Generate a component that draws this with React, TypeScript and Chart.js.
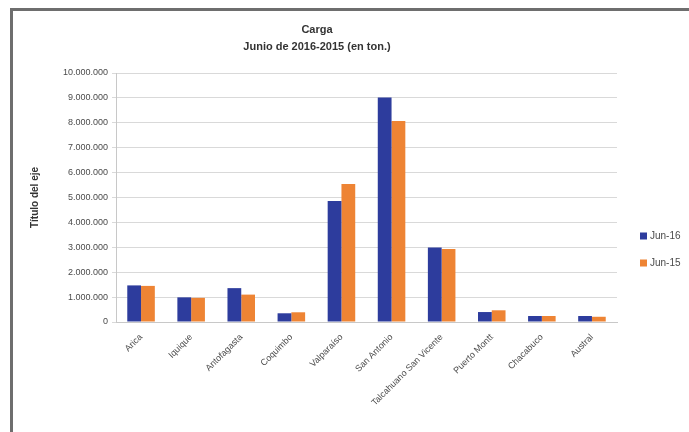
import React, { useEffect, useRef } from "react";
import { Chart, registerables } from "chart.js";

Chart.register(...registerables);

const categories = [
  "Arica",
  "Iquique",
  "Antofagasta",
  "Coquimbo",
  "Valparaíso",
  "San Antonio",
  "Talcahuano San Vicente",
  "Puerto Montt",
  "Chacabuco",
  "Austral",
];
const seriesNames = ["Jun-16", "Jun-15"];
const jun16 = [1470000, 990000, 1360000, 350000, 4860000, 9020000, 2990000, 400000, 240000, 240000];
const jun15 = [1450000, 970000, 1100000, 390000, 5540000, 8070000, 2930000, 470000, 240000, 210000];
const titleLines = ["Carga", "Junio de 2016-2015 (en ton.)"];
const yAxisTitle = "Título del eje";
const colors = ["#2d3c9d", "#ee8434"];

const FONT = "'Liberation Sans', Arial, sans-serif";

const fmt = (v: number) => String(Math.round(v)).replace(/\B(?=(\d{3})+(?!\d))/g, ".");

const legendPlugin = {
  id: "customLegend",
  afterDraw(chart: any) {
    const ctx = chart.ctx;
    ctx.save();
    ctx.font = `10px ${FONT}`;
    ctx.textBaseline = "middle";
    chart.data.datasets.forEach((ds: any, i: number) => {
      const y = 236 + i * 27;
      ctx.fillStyle = ds.backgroundColor;
      ctx.fillRect(640, y - 3.5, 7, 7);
      ctx.fillStyle = "#4a4a4a";
      ctx.fillText(ds.label, 650, y);
    });
    ctx.restore();
  },
};

export default function App() {
  const ref = useRef<HTMLCanvasElement | null>(null);
  useEffect(() => {
    if (!ref.current) return;
    const chart = new Chart(ref.current, {
      type: "bar",
      data: {
        labels: categories,
        datasets: [
          { label: seriesNames[0], data: jun16, backgroundColor: colors[0] },
          { label: seriesNames[1], data: jun15, backgroundColor: colors[1] },
        ],
      },
      options: {
        animation: false,
        responsive: false,
        layout: { padding: { left: 17, right: 72, top: 0, bottom: 0 } },
        datasets: { bar: { categoryPercentage: 0.55, barPercentage: 1.0 } },
        plugins: {
          legend: { display: false },
          tooltip: { enabled: false },
          title: {
            display: true,
            text: titleLines,
            color: "#333333",
            font: { family: FONT, size: 11, weight: "bold", lineHeight: 1.5 },
            padding: { top: 22, bottom: 18 },
          },
        },
        scales: {
          x: {
            grid: { display: false },
            border: { display: true, color: "#c8c8c8" },
            ticks: {
              minRotation: 45,
              maxRotation: 45,
              autoSkip: false,
              color: "#4a4a4a",
              font: { family: FONT, size: 9 },
              padding: 2,
            },
            afterFit(scale: any) {
              scale.height = 110;
            },
          },
          y: {
            min: 0,
            max: 10000000,
            grid: { color: "#d9d9d9", tickLength: 4 },
            border: { display: true, color: "#c8c8c8" },
            ticks: {
              stepSize: 1000000,
              color: "#4a4a4a",
              font: { family: FONT, size: 9 },
              padding: 4,
              callback: (v: any) => fmt(Number(v)),
            },
            title: {
              display: true,
              text: yAxisTitle,
              color: "#333333",
              font: { family: FONT, size: 10, weight: "bold" },
              padding: { top: 12, bottom: 0 },
            },
            afterFit(scale: any) {
              scale.width = 99;
            },
          },
        },
      },
      plugins: [legendPlugin],
    });
    return () => chart.destroy();
  }, []);

  return (
    <div
      style={{
        position: "fixed",
        left: 0,
        top: 0,
        width: 689,
        height: 432,
        overflow: "hidden",
        background: "#ffffff",
      }}
    >
      <div
        style={{
          position: "absolute",
          left: 10,
          top: 8,
          width: 720,
          height: 480,
          borderLeft: "3px solid #6e6e6e",
          borderTop: "3px solid #6e6e6e",
        }}
      />
      <canvas ref={ref} width={689} height={432} style={{ position: "absolute", left: 0, top: 0 }} />
    </div>
  );
}
